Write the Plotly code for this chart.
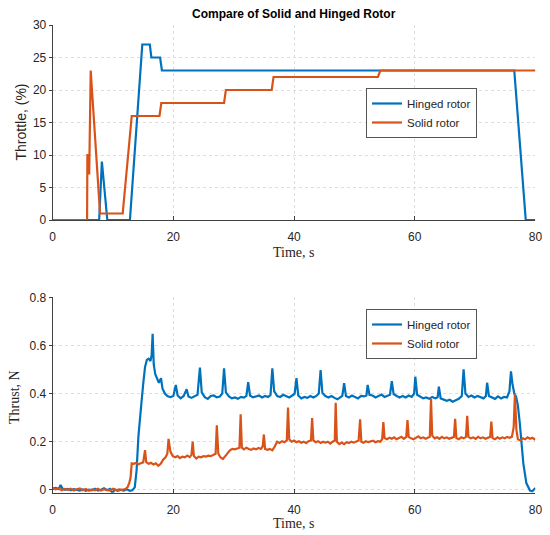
import plotly.graph_objects as go

# ---------------- Throttle data ----------------
thr_hinged_t = [0, 7.7, 8.15, 9.05, 12.8, 14.85, 16.1, 16.35, 17.8, 18.1, 76.5, 78.4, 80]
thr_hinged_v = [0, 0, 9, 0, 0, 27, 27, 25, 25, 23, 23, 0, 0]
thr_solid_t = [0, 5.7, 5.75, 5.95, 6.05, 6.3, 7.85, 11.6, 13.1, 17.7, 18.0, 28.4, 28.7, 36.3, 36.6, 53.9, 54.3, 80]
thr_solid_v = [0, 0, 10, 10, 7, 23, 1, 1, 16, 16, 18, 18, 20, 20, 22, 22, 23, 23]

# ---------------- Thrust data ----------------
hinged_pts = [
    (0.0, 0.005), (0.5, 0.008), (1.0, 0.003), (1.3, 0.02), (1.6, 0.006), (2.0, 0.0), (2.5, 0.004),
    (3.0, -0.002), (3.5, 0.003), (4.0, 0.0), (4.5, -0.003), (5.0, 0.002), (5.5, -0.004), (6.0, 0.001),
    (6.5, -0.002), (7.0, 0.004), (7.5, -0.003), (8.0, 0.0), (8.5, 0.006), (9.0, -0.002), (9.5, 0.004),
    (9.9, -0.014), (10.3, 0.002), (10.8, -0.004), (11.3, 0.0), (11.8, -0.003), (12.3, 0.002),
    (12.8, -0.004), (13.2, -0.002), (13.6, 0.01), (13.9, 0.08), (14.2, 0.22), (14.4, 0.29), (14.7, 0.36),
    (15.0, 0.44), (15.3, 0.51), (15.6, 0.54), (15.9, 0.545), (16.2, 0.535), (16.4, 0.56), (16.56, 0.648),
    (16.75, 0.52), (17.0, 0.48), (17.3, 0.46), (17.6, 0.445), (17.95, 0.464), (18.2, 0.42), (18.6, 0.40),
    (19.0, 0.39), (19.5, 0.385), (20.0, 0.39), (20.4, 0.436), (20.7, 0.392), (21.2, 0.38), (21.7, 0.39),
    (22.2, 0.418), (22.5, 0.388), (23.0, 0.382), (23.5, 0.39), (24.0, 0.395), (24.4, 0.508), (24.7, 0.405),
    (25.2, 0.385), (25.7, 0.378), (26.2, 0.39), (26.7, 0.392), (27.2, 0.384), (27.7, 0.388), (28.1, 0.4),
    (28.4, 0.505), (28.7, 0.405), (29.2, 0.388), (29.7, 0.38), (30.2, 0.384), (30.7, 0.378), (31.2, 0.386),
    (31.7, 0.383), (32.1, 0.39), (32.4, 0.447), (32.7, 0.392), (33.2, 0.384), (33.7, 0.388), (34.2, 0.392),
    (34.7, 0.384), (35.2, 0.39), (35.7, 0.386), (36.1, 0.394), (36.4, 0.505), (36.7, 0.41), (37.2, 0.39),
    (37.7, 0.386), (38.2, 0.395), (38.7, 0.39), (39.2, 0.384), (39.7, 0.392), (40.1, 0.40), (40.4, 0.464),
    (40.7, 0.392), (41.2, 0.38), (41.7, 0.386), (42.2, 0.382), (42.7, 0.39), (43.2, 0.384), (43.7, 0.39),
    (44.1, 0.40), (44.4, 0.498), (44.7, 0.402), (45.2, 0.39), (45.7, 0.384), (46.2, 0.39), (46.7, 0.382),
    (47.2, 0.376), (47.7, 0.385), (48.0, 0.39), (48.3, 0.443), (48.6, 0.39), (49.1, 0.384), (49.6, 0.392),
    (50.1, 0.386), (50.6, 0.38), (51.1, 0.39), (51.6, 0.388), (52.0, 0.392), (52.2, 0.436), (52.5, 0.395),
    (53.0, 0.392), (53.5, 0.384), (54.0, 0.39), (54.5, 0.396), (55.0, 0.386), (55.5, 0.392), (55.9, 0.395),
    (56.2, 0.452), (56.5, 0.398), (57.0, 0.39), (57.5, 0.384), (58.0, 0.39), (58.5, 0.384), (59.0, 0.392),
    (59.5, 0.386), (59.9, 0.40), (60.1, 0.47), (60.4, 0.395), (60.9, 0.386), (61.4, 0.38), (61.9, 0.384),
    (62.4, 0.378), (62.9, 0.386), (63.4, 0.38), (63.8, 0.385), (64.0, 0.429), (64.3, 0.38), (64.8, 0.376),
    (65.3, 0.37), (65.8, 0.374), (66.3, 0.366), (66.8, 0.372), (67.3, 0.378), (67.8, 0.39), (68.1, 0.501),
    (68.4, 0.40), (68.9, 0.386), (69.4, 0.392), (69.9, 0.384), (70.4, 0.39), (70.9, 0.386), (71.4, 0.38),
    (71.8, 0.39), (72.0, 0.445), (72.3, 0.39), (72.8, 0.384), (73.3, 0.378), (73.8, 0.388), (74.3, 0.38),
    (74.8, 0.386), (75.3, 0.384), (75.7, 0.41), (75.95, 0.492), (76.2, 0.44), (76.5, 0.40), (76.8, 0.387),
    (77.1, 0.35), (77.4, 0.28), (77.7, 0.19), (78.0, 0.11), (78.5, 0.028), (79.1, -0.003), (79.5, -0.006),
    (80.0, 0.008),
]
solid_pts = [
    (0.0, 0.008), (0.5, 0.002), (1.0, 0.006), (1.5, -0.002), (2.0, 0.004), (2.5, 0.0), (3.0, 0.005),
    (3.5, -0.003), (4.0, 0.002), (4.5, 0.006), (5.0, -0.002), (5.5, 0.003), (6.0, -0.004), (6.5, 0.002),
    (7.0, -0.002), (7.5, 0.004), (8.0, -0.003), (8.5, 0.002), (9.0, 0.0), (9.5, -0.003), (10.0, 0.004),
    (10.5, -0.002), (11.0, 0.002), (11.5, 0.0), (12.0, 0.003), (12.4, 0.01), (12.7, 0.03), (12.9, 0.05),
    (13.1, 0.11), (13.4, 0.108), (13.8, 0.112), (14.2, 0.106), (14.6, 0.11), (15.0, 0.114), (15.3, 0.165),
    (15.5, 0.115), (15.9, 0.108), (16.3, 0.112), (16.7, 0.105), (17.1, 0.11), (17.5, 0.10), (17.9, 0.108),
    (18.3, 0.125), (18.7, 0.135), (19.0, 0.15), (19.2, 0.212), (19.5, 0.16), (19.9, 0.14), (20.3, 0.135),
    (20.7, 0.14), (21.1, 0.132), (21.5, 0.138), (21.9, 0.135), (22.3, 0.142), (22.7, 0.136), (23.0, 0.145),
    (23.2, 0.20), (23.4, 0.14), (23.8, 0.13), (24.2, 0.138), (24.6, 0.135), (25.0, 0.14), (25.4, 0.138),
    (25.8, 0.142), (26.2, 0.14), (26.6, 0.145), (27.0, 0.15), (27.2, 0.268), (27.45, 0.15), (27.8, 0.135),
    (28.2, 0.128), (28.6, 0.14), (29.0, 0.155), (29.4, 0.165), (29.8, 0.17), (30.2, 0.168), (30.6, 0.172),
    (30.95, 0.175), (31.15, 0.314), (31.35, 0.175), (31.7, 0.168), (32.1, 0.175), (32.5, 0.17), (32.9, 0.166),
    (33.3, 0.172), (33.7, 0.168), (34.1, 0.174), (34.5, 0.17), (34.8, 0.18), (35.0, 0.23), (35.2, 0.17),
    (35.6, 0.166), (36.0, 0.17), (36.4, 0.164), (36.8, 0.18), (37.2, 0.2), (37.6, 0.195), (38.0, 0.202),
    (38.4, 0.198), (38.8, 0.205), (39.0, 0.342), (39.2, 0.21), (39.6, 0.2), (40.0, 0.205), (40.4, 0.198),
    (40.8, 0.202), (41.2, 0.196), (41.6, 0.2), (42.0, 0.194), (42.4, 0.202), (42.8, 0.205), (43.0, 0.298),
    (43.2, 0.205), (43.6, 0.198), (44.0, 0.202), (44.4, 0.195), (44.8, 0.2), (45.2, 0.196), (45.6, 0.2),
    (46.0, 0.192), (46.4, 0.2), (46.75, 0.205), (46.9, 0.362), (47.1, 0.2), (47.5, 0.19), (47.9, 0.196),
    (48.3, 0.19), (48.7, 0.198), (49.1, 0.194), (49.5, 0.2), (49.9, 0.196), (50.3, 0.2), (50.7, 0.205),
    (50.95, 0.293), (51.15, 0.2), (51.5, 0.196), (51.9, 0.202), (52.3, 0.198), (52.7, 0.2), (53.1, 0.204),
    (53.5, 0.198), (53.9, 0.202), (54.3, 0.2), (54.6, 0.21), (54.8, 0.281), (55.0, 0.215), (55.4, 0.21),
    (55.8, 0.216), (56.2, 0.212), (56.6, 0.218), (57.0, 0.21), (57.4, 0.214), (57.8, 0.22), (58.2, 0.212),
    (58.6, 0.22), (58.8, 0.29), (59.0, 0.22), (59.4, 0.214), (59.8, 0.21), (60.2, 0.216), (60.6, 0.222),
    (61.0, 0.214), (61.4, 0.218), (61.8, 0.212), (62.2, 0.216), (62.5, 0.22), (62.7, 0.378), (62.9, 0.225),
    (63.3, 0.214), (63.7, 0.218), (64.1, 0.212), (64.5, 0.22), (64.9, 0.214), (65.3, 0.218), (65.7, 0.212),
    (66.1, 0.216), (66.5, 0.22), (66.7, 0.295), (66.9, 0.215), (67.3, 0.21), (67.7, 0.218), (68.1, 0.214),
    (68.5, 0.22), (68.7, 0.308), (68.9, 0.22), (69.3, 0.214), (69.7, 0.218), (70.1, 0.212), (70.5, 0.22),
    (70.9, 0.214), (71.3, 0.218), (71.7, 0.212), (72.1, 0.216), (72.5, 0.22), (72.7, 0.284), (72.9, 0.215),
    (73.3, 0.21), (73.7, 0.218), (74.1, 0.212), (74.5, 0.218), (74.9, 0.214), (75.3, 0.22), (75.7, 0.216),
    (76.1, 0.22), (76.4, 0.26), (76.6, 0.397), (76.85, 0.25), (77.1, 0.21), (77.5, 0.205), (77.9, 0.214),
    (78.3, 0.21), (78.7, 0.218), (79.1, 0.212), (79.5, 0.216), (80.0, 0.208),
]
thrust_hinged_t = [p[0] for p in hinged_pts]
thrust_hinged_v = [p[1] for p in hinged_pts]
thrust_solid_t = [p[0] for p in solid_pts]
thrust_solid_v = [p[1] for p in solid_pts]

series_names = ["Hinged rotor", "Solid rotor"]
x_ticks = [0, 20, 40, 60, 80]
thr_ticks = [0, 5, 10, 15, 20, 25, 30]
thrust_ticks = [0, 0.2, 0.4, 0.6, 0.8]
thrust_tick_labels = ["0", "0.2", "0.4", "0.6", "0.8"]

BLUE = "#0072BD"
ORANGE = "#D95319"
AX = "#404040"
LW = 2.2

# The page body has an 8px default margin; the figure is sized to fill the rest of the window.
OFF = 8
W, H = 550 - OFF, 535 - OFF


def fx(p):
    return (p - OFF) / W


def fy(p):
    return 1 - (p - OFF) / H


fig = go.Figure()
fig.add_trace(go.Scatter(x=thr_hinged_t, y=thr_hinged_v, mode="lines", name=series_names[0],
                         line=dict(color=BLUE, width=LW), xaxis="x", yaxis="y", legend="legend"))
fig.add_trace(go.Scatter(x=thr_solid_t, y=thr_solid_v, mode="lines", name=series_names[1],
                         line=dict(color=ORANGE, width=LW), xaxis="x", yaxis="y", legend="legend"))
fig.add_trace(go.Scatter(x=thrust_hinged_t, y=thrust_hinged_v, mode="lines", name=series_names[0],
                         line=dict(color=BLUE, width=LW), xaxis="x2", yaxis="y2", legend="legend2"))
fig.add_trace(go.Scatter(x=thrust_solid_t, y=thrust_solid_v, mode="lines", name=series_names[1],
                         line=dict(color=ORANGE, width=LW), xaxis="x2", yaxis="y2", legend="legend2"))

tickfont = dict(family="Liberation Sans, Arial, sans-serif", size=12, color="#262626")
axis_common = dict(showline=True, linecolor=AX, linewidth=1,
                   tickcolor=AX, showgrid=True, gridcolor="#dedede", griddash="dot",
                   gridwidth=1, zeroline=False, tickfont=tickfont, mirror=False,
                   automargin=False)
xaxis_style = dict(ticks="inside", ticklen=4, ticklabelstandoff=6, **axis_common)
yaxis_style = dict(ticks="outside", ticklen=3, ticklabelstandoff=0, **axis_common)

xdom = [fx(52.7), fx(535.4)]
legend_font = dict(family="Liberation Sans, Arial, sans-serif", size=11.5, color="#262626")
fig.update_layout(
    width=W, height=H, margin=dict(l=0, r=0, t=0, b=0, autoexpand=False),
    paper_bgcolor="white", plot_bgcolor="white",
    xaxis=dict(domain=xdom, range=[0, 80], tickvals=x_ticks, anchor="y", **xaxis_style),
    yaxis=dict(domain=[fy(220), fy(25)], range=[0, 30], tickvals=thr_ticks, anchor="x", **yaxis_style),
    xaxis2=dict(domain=xdom, range=[0, 80], tickvals=x_ticks, anchor="y2", **xaxis_style),
    yaxis2=dict(domain=[fy(492.7), fy(297.3)], range=[-0.012, 0.8], tickvals=thrust_ticks,
                ticktext=thrust_tick_labels, anchor="x2", **yaxis_style),
    legend=dict(x=fx(366), y=fy(88), xanchor="left", yanchor="top", bgcolor="white",
                bordercolor="#555555", borderwidth=1, font=legend_font, tracegroupgap=0),
    legend2=dict(x=fx(366), y=fy(309), xanchor="left", yanchor="top", bgcolor="white",
                 bordercolor="#555555", borderwidth=1, font=legend_font, tracegroupgap=0),
    showlegend=True,
)

annots = [
    dict(text="<b>Compare of Solid and Hinged Rotor</b>", x=fx(294), y=fy(14),
         font=dict(family="Liberation Sans, Arial, sans-serif", size=12, color="#000000")),
    dict(text="Time, s", x=fx(294), y=fy(253),
         font=dict(family="Liberation Serif, Times New Roman, serif", size=14, color="#262626")),
    dict(text="Time, s", x=fx(294), y=fy(523),
         font=dict(family="Liberation Serif, Times New Roman, serif", size=14, color="#262626")),
    dict(text="Throttle, (%)", x=fx(20.5), y=fy(122), textangle=-90,
         font=dict(family="Liberation Sans, Arial, sans-serif", size=14, color="#262626")),
    dict(text="Thrust, N", x=fx(14), y=fy(397), textangle=-90,
         font=dict(family="Liberation Serif, Times New Roman, serif", size=14, color="#262626")),
]
for a in annots:
    fig.add_annotation(xref="paper", yref="paper", showarrow=False, xanchor="center",
                       yanchor="middle", **a)

fig.write_html("out.html")
